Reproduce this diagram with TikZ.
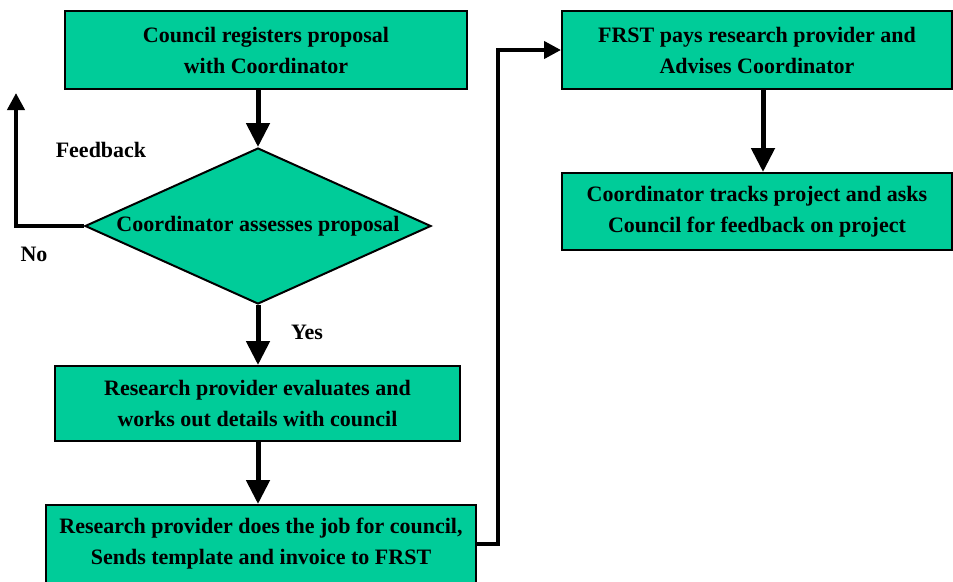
\documentclass[tikz,border=0pt]{standalone}
\usepackage{fontspec}
\setmainfont{Liberation Serif}
\usetikzlibrary{shapes.geometric,arrows.meta,positioning}
\definecolor{boxgreen}{RGB}{0,204,153}
\tikzset{
  stepbox/.style={draw=black, line width=2pt, fill=boxgreen, rectangle, inner sep=0pt,
    align=center, font=\bfseries\fontsize{22}{31}\selectfont},
  decision/.style={draw=black, line width=2pt, fill=boxgreen, diamond, inner sep=0pt,
    shape aspect=2.218, font=\bfseries\fontsize{22}{31}\selectfont},
  lbl/.style={font=\bfseries\fontsize{22}{31}\selectfont, inner sep=0pt},
  bigarrow/.style={line width=5pt, -{Triangle[length=24pt,width=23pt]}},
  smallarrow/.style={line width=4pt, -{Triangle[length=17pt,width=17pt]}}
}
\begin{document}
\begin{tikzpicture}[x=1pt,y=-1pt]
\useasboundingbox (0,0) rectangle (953,581);
\clip (0,0) rectangle (953,581);
\node[stepbox, minimum width=402pt, minimum height=78pt] (b1) at (266,50)
  {Council registers proposal\\with Coordinator};
\node[decision, minimum width=346pt, minimum height=156pt] (dia) at (258,226)
  {Coordinator assesses proposal};
\node[stepbox, minimum width=405pt, minimum height=75pt] (b2) at (257.5,403.5)
  {Research provider evaluates and\\works out details with council};
\node[stepbox, minimum width=430pt, minimum height=78pt] (b3) at (261,544)
  {Research provider does the job for council,\\Sends template and invoice to FRST};
\node[stepbox, minimum width=390pt, minimum height=78pt] (b4) at (757,50)
  {FRST pays research provider and\\Advises Coordinator};
\node[stepbox, minimum width=390pt, minimum height=77pt] (b5) at (757,211.5)
  {Coordinator tracks project and asks\\Council for feedback on project};
\coordinate (fb) at (16,93);
\node[lbl] (lfb) at (101,150) {Feedback};
\node[lbl] (lno) at (34,254) {No};
\node[lbl] (lyes) at (307,332) {Yes};
\draw[bigarrow] (b1.south -| dia.north) -- (dia.north);
\draw[smallarrow] (dia.west) -| (fb);
\draw[bigarrow] (dia.south) -- (b2.north -| dia.south);
\draw[bigarrow] (b2.south -| dia.south) -- (b3.north -| dia.south);
\draw[smallarrow] (b3.east) -- ++(21,0) |- (b4.west);
\draw[bigarrow] ([xshift=6pt]b4.south) -- ([xshift=6pt]b5.north);
\end{tikzpicture}
\end{document}
